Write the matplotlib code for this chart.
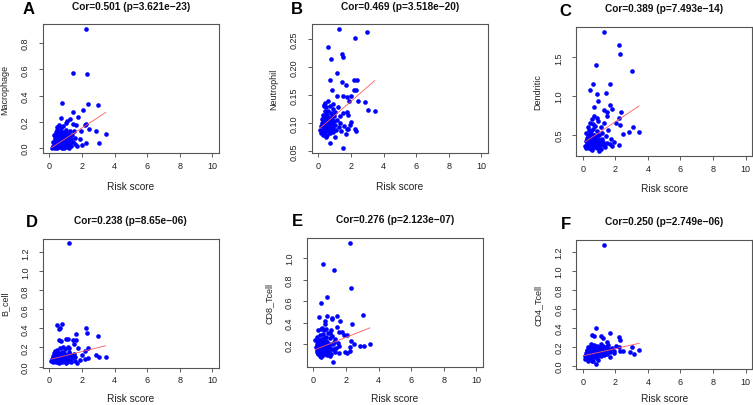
import numpy as np
import matplotlib.pyplot as plt

plt.rcParams['font.family'] = ['Liberation Sans', 'DejaVu Sans']

# ---- data (risk score vs. immune cell score) ----
macrophage_x = [2.25, 1.47, 2.29, 0.78, 2.35, 3.0, 2.04, 1.43, 0.70, 1.78, 1.06, 1.27, 2.25, 2.19,
                1.43, 1.64, 2.41, 2.86, 3.46, 1.94, 3.07, 2.25, 1.88, 1.98, 1.72,
                0.15, 0.2, 0.25, 0.3, 0.35, 0.4, 0.4, 0.45, 0.5, 0.5, 0.55, 0.6, 0.6, 0.65, 0.7, 0.7,
                0.75, 0.8, 0.8, 0.85, 0.9, 0.9, 0.95, 1.0, 1.0, 1.05, 1.1, 1.1, 1.15, 1.2, 1.25, 1.3,
                1.35, 1.4, 1.45, 1.5, 1.55, 1.6, 0.3, 0.55, 0.65, 0.75, 1.0, 0.85, 1.2, 0.45, 0.35, 0.6,
                0.28, 0.33, 0.38, 0.43, 0.47, 0.52, 0.57, 0.62, 0.67, 0.72, 0.77, 0.82, 0.87, 0.92, 0.97,
                1.02, 1.07, 1.12, 1.17, 1.22, 1.27, 0.5, 0.7, 0.9]
macrophage_y = [0.908, 0.569, 0.564, 0.344, 0.338, 0.331, 0.287, 0.272, 0.231, 0.236, 0.205, 0.22, 0.185, 0.174,
                0.182, 0.18, 0.144, 0.128, 0.105, 0.128, 0.036, 0.041, 0.067, 0.023, 0.02,
                0.0, 0.02, 0.05, 0.01, 0.08, 0.03, 0.12, 0.06, 0.0, 0.14, 0.09, 0.03, 0.11, 0.06, 0.15, 0.01,
                0.08, 0.04, 0.12, 0.17, 0.07, 0.0, 0.1, 0.03, 0.14, 0.06, 0.11, 0.01, 0.08, 0.04, 0.13, 0.07,
                0.02, 0.1, 0.05, 0.13, 0.03, 0.08, 0.1, 0.02, 0.13, 0.0, 0.19, 0.09, 0.0, 0.16, 0.0, 0.18,
                0.04, 0.06, 0.02, 0.09, 0.04, 0.07, 0.01, 0.06, 0.1, 0.04, 0.11, 0.02, 0.05, 0.12, 0.04,
                0.09, 0.02, 0.06, 0.11, 0.09, 0.04, 0.11, 0.05, 0.03]

neutrophil_x = [1.25, 3.0, 2.25, 0.59, 1.45, 1.49, 0.80, 1.17, 2.19, 2.35, 0.72, 1.43, 1.70, 2.21, 2.31,
                0.82, 1.17, 1.49, 1.78, 2.02, 1.9, 2.45, 2.88, 3.07, 3.46, 0.43, 0.35, 1.74, 1.8, 1.98,
                1.94, 2.27, 2.31, 1.74, 1.84, 1.70, 0.72, 1.53,
                0.12, 0.15, 0.18, 0.2, 0.22, 0.25, 0.28, 0.3, 0.3, 0.35, 0.38, 0.4, 0.42, 0.45, 0.48, 0.5,
                0.52, 0.55, 0.58, 0.6, 0.62, 0.65, 0.68, 0.7, 0.72, 0.75, 0.78, 0.8, 0.85, 0.88, 0.9, 0.95,
                1.0, 1.05, 1.1, 1.15, 1.2, 1.25, 1.3, 1.35, 1.4, 1.5, 1.55, 0.6, 0.45, 0.9, 0.35, 1.0,
                0.55, 0.7,
                0.24, 0.27, 0.33, 0.37, 0.41, 0.44, 0.47, 0.53, 0.57, 0.61, 0.64, 0.67, 0.74, 0.77, 0.83,
                0.87, 0.93, 0.97, 0.5, 0.4]
neutrophil_y = [0.269, 0.264, 0.253, 0.237, 0.223, 0.219, 0.215, 0.189, 0.177, 0.177, 0.177, 0.173, 0.168, 0.160, 0.160,
                0.159, 0.149, 0.149, 0.146, 0.149, 0.14, 0.14, 0.138, 0.124, 0.121, 0.136, 0.133, 0.12, 0.114, 0.102,
                0.097, 0.089, 0.086, 0.09, 0.089, 0.08, 0.064, 0.055,
                0.088, 0.094, 0.082, 0.1, 0.108, 0.086, 0.095, 0.078, 0.115, 0.102, 0.09, 0.121, 0.084, 0.108, 0.096, 0.128,
                0.079, 0.114, 0.102, 0.088, 0.122, 0.095, 0.11, 0.082, 0.13, 0.1, 0.118, 0.09, 0.106, 0.125, 0.084, 0.112,
                0.097, 0.12, 0.088, 0.105, 0.128, 0.093, 0.112, 0.1, 0.085, 0.118, 0.095, 0.14, 0.075, 0.135, 0.13, 0.076,
                0.09, 0.1,
                0.097, 0.104, 0.089, 0.112, 0.098, 0.092, 0.116, 0.105, 0.094, 0.11, 0.086, 0.102, 0.093, 0.108, 0.098,
                0.113, 0.091, 0.104, 0.088, 0.108]

dendritic_x = [1.29, 2.24, 2.31, 0.82, 3.02, 0.61, 1.67, 0.47, 0.86, 1.45, 0.94, 1.65, 0.71, 1.78, 1.31,
               1.51, 2.37, 1.51, 2.22, 2.04, 2.31, 3.06, 2.86, 3.45, 2.45, 2.24, 1.02, 1.94,
               0.15, 0.18, 0.2, 0.22, 0.25, 0.28, 0.3, 0.32, 0.35, 0.38, 0.4, 0.42, 0.45, 0.48, 0.5, 0.52,
               0.55, 0.58, 0.6, 0.62, 0.65, 0.68, 0.7, 0.72, 0.75, 0.78, 0.8, 0.85, 0.88, 0.9, 0.95, 1.0,
               1.02, 1.08, 1.12, 1.15, 1.2, 1.25, 1.3, 1.35, 1.4, 1.5, 1.55, 1.65, 1.75, 1.8, 0.3, 0.55,
               0.65, 0.85, 1.1, 0.4,
               0.24, 0.27, 0.33, 0.37, 0.41, 0.44, 0.47, 0.53, 0.57, 0.61, 0.64, 0.67, 0.74, 0.77, 0.83,
               0.87, 0.93, 0.97, 1.05, 1.18, 1.28, 0.5]
dendritic_y = [1.83, 1.66, 1.54, 1.40, 1.32, 1.16, 1.16, 1.08, 1.03, 1.04, 0.94, 0.89, 0.86, 0.84, 0.82,
               0.80, 0.80, 0.75, 0.72, 0.66, 0.63, 0.60, 0.54, 0.54, 0.51, 0.37, 0.29, 0.41,
               0.36, 0.42, 0.33, 0.52, 0.38, 0.46, 0.35, 0.6, 0.41, 0.5, 0.33, 0.65, 0.44, 0.37, 0.55, 0.32,
               0.47, 0.7, 0.39, 0.58, 0.34, 0.5, 0.42, 0.75, 0.36, 0.62, 0.46, 0.33, 0.55, 0.4, 0.68, 0.35,
               0.5, 0.43, 0.6, 0.37, 0.52, 0.41, 0.65, 0.35, 0.48, 0.4, 0.56, 0.38, 0.45, 0.36, 0.48, 0.3,
               0.64, 0.72, 0.32, 0.56,
               0.44, 0.34, 0.39, 0.47, 0.36, 0.42, 0.52, 0.4, 0.35, 0.45, 0.5, 0.38, 0.44, 0.34, 0.4,
               0.48, 0.36, 0.44, 0.39, 0.45, 0.37, 0.42]

bcell_x = [1.23, 0.80, 0.45, 0.65, 0.57, 2.23, 2.29, 1.64, 2.99, 0.57, 1.0, 1.16, 0.72, 1.48, 1.64,
           1.51, 1.78, 2.35, 2.19, 1.16, 2.86, 3.07, 3.46, 2.0, 2.21, 2.39, 1.72, 1.88,
           0.12, 0.15, 0.2, 0.22, 0.25, 0.3, 0.32, 0.35, 0.4, 0.42, 0.45, 0.48, 0.5, 0.55, 0.58, 0.6,
           0.65, 0.68, 0.7, 0.75, 0.78, 0.8, 0.85, 0.9, 0.95, 1.0, 1.05, 1.1, 1.15, 1.2, 1.25, 1.3,
           1.35, 1.4, 1.5, 1.55, 1.6, 0.35, 0.6, 0.85, 1.0, 0.5, 0.7, 1.2,
           0.24, 0.27, 0.33, 0.37, 0.41, 0.44, 0.47, 0.53, 0.57, 0.61, 0.64, 0.67, 0.74, 0.77, 0.83,
           0.87, 0.93, 0.97, 1.07, 1.18, 1.28]
bcell_y = [1.295, 0.45, 0.433, 0.405, 0.39, 0.405, 0.348, 0.345, 0.317, 0.28, 0.29, 0.29, 0.263, 0.274, 0.274,
           0.24, 0.193, 0.196, 0.168, 0.21, 0.122, 0.105, 0.097, 0.122, 0.076, 0.087, 0.041, 0.069,
           0.06, 0.08, 0.05, 0.11, 0.07, 0.14, 0.06, 0.09, 0.05, 0.12, 0.17, 0.07, 0.1, 0.05, 0.14, 0.08,
           0.19, 0.06, 0.11, 0.15, 0.05, 0.09, 0.13, 0.06, 0.18, 0.08, 0.12, 0.05, 0.1, 0.15, 0.07, 0.11,
           0.05, 0.09, 0.13, 0.06, 0.1, 0.16, 0.04, 0.2, 0.04, 0.13, 0.07, 0.19,
           0.09, 0.06, 0.11, 0.07, 0.13, 0.09, 0.06, 0.12, 0.07, 0.1, 0.13, 0.08, 0.06, 0.12, 0.08,
           0.1, 0.14, 0.07, 0.09, 0.06, 0.13]

cd8_x = [2.24, 0.61, 1.27, 2.29, 0.86, 0.47, 3.02, 0.33, 0.82, 1.47, 1.16, 1.12, 0.71, 0.73, 2.39,
         1.45, 1.65, 1.59, 1.73, 1.86, 2.08, 1.02, 2.29, 2.47, 2.86, 3.1, 3.47, 2.24, 2.24, 1.94,
         2.08, 1.18,
         0.12, 0.15, 0.2, 0.22, 0.25, 0.28, 0.3, 0.32, 0.35, 0.38, 0.4, 0.42, 0.45, 0.48, 0.5, 0.52,
         0.55, 0.58, 0.6, 0.62, 0.65, 0.68, 0.7, 0.72, 0.75, 0.78, 0.8, 0.85, 0.88, 0.9, 0.95, 1.0,
         1.05, 1.1, 1.15, 1.2, 1.25, 1.3, 1.35, 1.4, 1.5, 1.55, 1.6, 0.45, 0.55, 0.8, 1.0, 0.3,
         0.65, 1.1,
         0.24, 0.27, 0.33, 0.37, 0.41, 0.44, 0.47, 0.53, 0.57, 0.61, 0.64, 0.67, 0.74, 0.77, 0.83,
         0.87, 0.93, 0.97, 1.07, 1.18, 1.28]
cd8_y = [1.141, 0.944, 0.888, 0.725, 0.644, 0.58, 0.475, 0.456, 0.46, 0.465, 0.447, 0.435, 0.416, 0.394, 0.391,
         0.36, 0.416, 0.32, 0.314, 0.29, 0.29, 0.302, 0.234, 0.203, 0.185, 0.188, 0.2, 0.178, 0.144, 0.129,
         0.123, 0.036,
         0.24, 0.18, 0.13, 0.27, 0.2, 0.11, 0.33, 0.16, 0.24, 0.09, 0.29, 0.14, 0.2, 0.34, 0.12, 0.25,
         0.17, 0.3, 0.1, 0.22, 0.15, 0.33, 0.19, 0.12, 0.27, 0.16, 0.23, 0.1, 0.31, 0.18, 0.13, 0.26,
         0.2, 0.11, 0.28, 0.16, 0.22, 0.13, 0.25, 0.17, 0.21, 0.12, 0.19, 0.08, 0.35, 0.34, 0.09, 0.22,
         0.26, 0.33,
         0.15, 0.22, 0.19, 0.13, 0.17, 0.24, 0.12, 0.19, 0.14, 0.2, 0.17, 0.12, 0.21, 0.14, 0.18,
         0.22, 0.15, 0.19, 0.16, 0.2, 0.15]

cd4_x = [1.29, 0.82, 0.57, 0.67, 1.12, 1.67, 2.22, 2.29, 1.47, 1.27, 1.55, 2.04, 3.0, 2.2, 2.29,
         2.49, 2.9, 3.14, 3.47, 1.94, 1.67, 0.84, 0.65,
         0.12, 0.15, 0.2, 0.22, 0.25, 0.28, 0.3, 0.32, 0.35, 0.38, 0.4, 0.42, 0.45, 0.48, 0.5, 0.52,
         0.55, 0.58, 0.6, 0.62, 0.65, 0.68, 0.7, 0.72, 0.75, 0.78, 0.8, 0.85, 0.88, 0.9, 0.95, 1.0,
         1.05, 1.1, 1.15, 1.2, 1.25, 1.3, 1.35, 1.4, 1.45, 1.5, 1.6, 1.7, 1.8, 1.9, 0.3, 0.5,
         0.95, 1.15, 0.6,
         0.24, 0.27, 0.33, 0.37, 0.41, 0.44, 0.47, 0.53, 0.57, 0.61, 0.64, 0.67, 0.74, 0.77, 0.83,
         0.87, 0.93, 0.97, 1.07, 1.18, 1.28, 1.38, 1.48]
cd4_y = [1.279, 0.40, 0.325, 0.314, 0.318, 0.343, 0.307, 0.271, 0.25, 0.293, 0.221, 0.204, 0.2, 0.2, 0.15,
         0.157, 0.139, 0.125, 0.164, 0.132, 0.093, 0.014, 0.05,
         0.07, 0.1, 0.13, 0.08, 0.16, 0.11, 0.2, 0.07, 0.14, 0.1, 0.18, 0.12, 0.08, 0.21, 0.15, 0.1,
         0.17, 0.07, 0.13, 0.2, 0.11, 0.16, 0.09, 0.22, 0.14, 0.1, 0.18, 0.12, 0.21, 0.08, 0.16, 0.13,
         0.2, 0.1, 0.17, 0.14, 0.21, 0.11, 0.18, 0.15, 0.2, 0.12, 0.17, 0.14, 0.19, 0.15, 0.05, 0.23,
         0.06, 0.23, 0.05,
         0.12, 0.15, 0.09, 0.17, 0.13, 0.1, 0.16, 0.12, 0.19, 0.14, 0.09, 0.18, 0.12, 0.16, 0.1,
         0.15, 0.11, 0.18, 0.14, 0.12, 0.16, 0.12, 0.17]

letters = ["A", "B", "C", "D", "E", "F"]
cell_names = ["Macrophage", "Neutrophil", "Dendritic", "B_cell", "CD8_Tcell", "CD4_Tcell"]
titles = ["Cor=0.501 (p=3.621e\u221223)", "Cor=0.469 (p=3.518e\u221220)", "Cor=0.389 (p=7.493e\u221214)",
          "Cor=0.238 (p=8.65e\u221206)", "Cor=0.276 (p=2.123e\u221207)", "Cor=0.250 (p=2.749e\u221206)"]
fit_intercept = [-0.007, 0.0882, 0.39, 0.073, 0.146, 0.1016]
fit_slope = [0.0806, 0.0254, 0.14, 0.042, 0.06, 0.0387]
y_ticks = [[0, 0.2, 0.4, 0.6, 0.8], [0.05, 0.10, 0.15, 0.20, 0.25], [0.5, 1.0, 1.5],
           [0, 0.2, 0.4, 0.6, 0.8, 1.0, 1.2], [0.2, 0.4, 0.6, 0.8, 1.0], [0, 0.2, 0.4, 0.6, 0.8, 1.0, 1.2]]
y_fmt = ["%.1f", "%.2f", "%.1f", "%.1f", "%.1f", "%.1f"]
x_ticks = [0, 2, 4, 6, 8, 10]

xs_all = [macrophage_x, neutrophil_x, dendritic_x, bcell_x, cd8_x, cd4_x]
ys_all = [macrophage_y, neutrophil_y, dendritic_y, bcell_y, cd8_y, cd4_y]

# layout in pixels: plot box (left, top, width, height), letter centre, x-label centre y
W, H = 753, 406
boxes = [(42.8, 25, 176, 129), (311.8, 25, 176, 129), (576.2, 28, 176, 129),
         (42.8, 239.5, 176, 129), (306.8, 239, 176, 129), (576.2, 241, 176, 129)]
letter_pos = [(29, 9.5), (296.5, 9.5), (565.5, 11.5), (32, 222.5), (297, 221.5), (565.5, 224.5)]
xlabel_y = [187, 187, 189, 399, 399, 399]

fig = plt.figure(figsize=(W / 100, H / 100), dpi=100)

for i in range(6):
    l, t, w, h = boxes[i]
    ax = fig.add_axes([l / W, 1 - (t + h) / H, w / W, h / H])
    x = np.array(xs_all[i])
    y = np.array(ys_all[i])

    ax.scatter(x, y, s=11, color="#0000FF", linewidths=0, zorder=2)
    line_x = np.array([x.min(), x.max()])
    ax.plot(line_x, fit_intercept[i] + fit_slope[i] * line_x, color="#FF5A5A", lw=0.6, zorder=3)

    # R-style 4% axis extension
    ax.set_xlim(-0.4, 10.4)
    pad = 0.04 * (y.max() - y.min())
    ax.set_ylim(y.min() - pad, y.max() + pad)

    ax.set_xticks(x_ticks)
    ax.set_xticklabels([str(v) for v in x_ticks])
    ax.set_yticks(y_ticks[i])
    ax.set_yticklabels([y_fmt[i] % v for v in y_ticks[i]], rotation=90, va="center")

    for sp in ax.spines.values():
        sp.set_color("#555555")
        sp.set_linewidth(0.8)
    ax.tick_params(axis="both", direction="out", length=3, width=0.6, color="#444444",
                   labelsize=6.5, labelcolor="#222222")
    ax.tick_params(axis="x", pad=2.7)
    ax.tick_params(axis="y", pad=6.2)

    ax.set_xlabel("Risk score", fontsize=7.3, color="#222222", va="center")
    ax.xaxis.set_label_coords(0.5, -(xlabel_y[i] - t - h) / h)
    ax.set_ylabel(cell_names[i], fontsize=6.5, color="#222222", va="center")
    ax.yaxis.set_label_coords(-38 / w, 0.5)

    fig.text((l + w / 2) / W, 1 - (t - 18.5) / H, titles[i], ha="center", va="center",
             fontsize=7.3, fontweight="bold", color="#111111")
    lx, ly = letter_pos[i]
    fig.text(lx / W, 1 - ly / H, letters[i], ha="center", va="center",
             fontsize=12, fontweight="bold", color="#000000")

fig.savefig("out.png", dpi=100)
